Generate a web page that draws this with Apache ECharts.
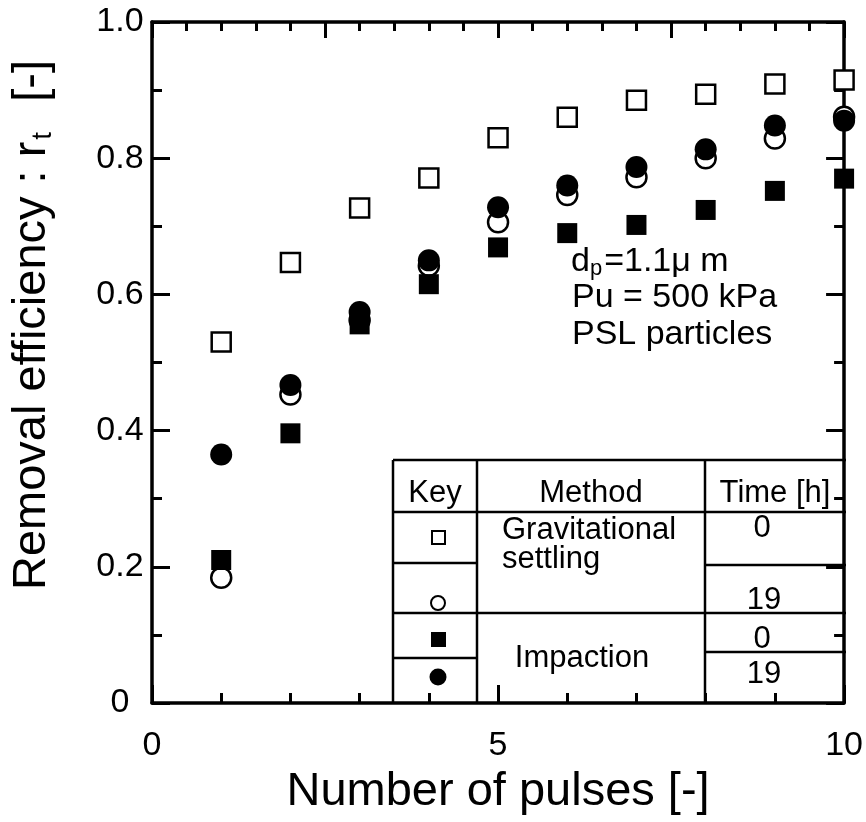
<!DOCTYPE html>
<html>
<head>
<meta charset="utf-8">
<script src="https://cdn.jsdelivr.net/npm/echarts@6/dist/echarts.min.js"></script>
<style>
html,body{margin:0;padding:0;background:#fff;}
#chart{width:866px;height:822px;}
</style>
</head>
<body>
<div id="chart"></div>
<script>
// ---- data ----
const pulses = [1, 2, 3, 4, 5, 6, 7, 8, 9, 10];
const gravSettling0h = [0.530, 0.647, 0.727, 0.771, 0.830, 0.860, 0.885, 0.894, 0.909, 0.915];
const gravSettling19h = [0.184, 0.453, 0.562, 0.642, 0.706, 0.746, 0.772, 0.800, 0.829, 0.861];
const impaction0h = [0.210, 0.396, 0.556, 0.615, 0.669, 0.690, 0.702, 0.724, 0.752, 0.770];
const impaction19h = [0.365, 0.467, 0.574, 0.650, 0.728, 0.760, 0.787, 0.813, 0.848, 0.855];
const xTickLabels = {0: '0', 5: '5', 10: '10'};
const yTickLabels = {0: '0', 0.2: '0.2', 0.4: '0.4', 0.6: '0.6', 0.8: '0.8', 1: '1.0'};

const FONT = "'Liberation Sans', Arial, Helvetica, sans-serif";
const pairs = arr => pulses.map((p, i) => [p, arr[i]]);

const chart = echarts.init(document.getElementById('chart'), null, {renderer: 'canvas'});

const axisLine = {show: true, onZero: false, lineStyle: {color: '#000', width: 3.5}};
const baseX = {
  type: 'value', min: 0, max: 10,
  axisLine: axisLine, splitLine: {show: false}
};
const baseY = {
  type: 'value', min: 0, max: 1, interval: 0.2,
  axisLine: axisLine, splitLine: {show: false},
  axisTick: {show: true, inside: true, length: 18, lineStyle: {color: '#000', width: 3}},
  minorTick: {show: true, splitNumber: 2, length: 10, lineStyle: {color: '#000', width: 3}},
  minorSplitLine: {show: false}
};

function hline(x1, y1, x2, y2) {
  return {type: 'line', shape: {x1, y1, x2, y2}, style: {stroke: '#000', lineWidth: 2.5}, z: 10};
}
function txt(x, y, text, align, size) {
  return {type: 'text', x, y, z: 10,
    style: {text, fill: '#000', font: (size || 31) + 'px ' + FONT, textAlign: align || 'center', textVerticalAlign: 'middle'}};
}

const graphics = [
  // table
  hline(393, 460, 846, 460),
  hline(393, 460, 393, 703),
  hline(477, 460, 477, 703),
  hline(705, 460, 705, 703),
  hline(393, 512, 846, 512),
  hline(393, 563, 477, 563),
  hline(705, 565, 846, 565),
  hline(393, 613, 846, 613),
  hline(393, 658, 477, 658),
  hline(705, 652, 846, 652),
  txt(435, 493, 'Key'),
  txt(591, 493, 'Method'),
  txt(775, 493, 'Time [h]'),
  txt(502, 530, 'Gravitational', 'left'),
  txt(502, 559, 'settling', 'left'),
  txt(582, 658, 'Impaction'),
  txt(762, 528, '0'),
  txt(764, 600, '19'),
  txt(762, 639, '0'),
  txt(764, 674, '19'),
  // key symbols
  {type: 'rect', shape: {x: 432, y: 531, width: 13, height: 13}, style: {fill: '#fff', stroke: '#000', lineWidth: 2}, z: 10},
  {type: 'circle', shape: {cx: 438, cy: 603, r: 7}, style: {fill: '#fff', stroke: '#000', lineWidth: 2}, z: 10},
  {type: 'rect', shape: {x: 431, y: 632, width: 15, height: 15}, style: {fill: '#000'}, z: 10},
  {type: 'circle', shape: {cx: 438, cy: 677, r: 8.5}, style: {fill: '#000'}, z: 10},
  // annotation
  {type: 'text', x: 571, y: 262, z: 10, style: {
    text: '{n|d}{s|p}{n|=1.1μ m}', textVerticalAlign: 'middle', textAlign: 'left',
    rich: {n: {fontSize: 34, fontFamily: FONT, fill: '#000'}, s: {fontSize: 22, fontFamily: FONT, fill: '#000', padding: [14, 2, 0, 0]}}}},
  txt(572, 298, 'Pu = 500 kPa', 'left', 34),
  txt(572, 335, 'PSL particles', 'left', 34),
  // y-axis title
  {type: 'text', x: 32, y: 325, rotation: Math.PI / 2, z: 10, style: {
    text: '{n|Removal efficiency : r}{s|t}{n|  [-]}', textAlign: 'center', textVerticalAlign: 'middle',
    rich: {n: {fontSize: 47, fontFamily: FONT, fill: '#000'}, s: {fontSize: 28, fontFamily: FONT, fill: '#000', padding: [22, 4, 0, 2]}}}}
];

const option = {
  backgroundColor: '#fff',
  animation: false,
  grid: {left: 152, right: 20, top: 22, bottom: 119},
  xAxis: [
    Object.assign({}, baseX, {
      position: 'bottom', interval: 5,
      axisTick: {show: true, inside: true, length: 18, lineStyle: {color: '#000', width: 3}},
      minorTick: {show: true, splitNumber: 5, length: 10, lineStyle: {color: '#000', width: 3}},
      axisLabel: {show: true, color: '#000', fontSize: 34, fontFamily: FONT, margin: 26,
        formatter: v => xTickLabels[v] !== undefined ? xTickLabels[v] : ''},
      name: 'Number of pulses [-]', nameLocation: 'middle', nameGap: 66,
      nameTextStyle: {color: '#000', fontSize: 47, fontFamily: FONT}
    }),
    Object.assign({}, baseX, {
      position: 'top', interval: 2.5,
      axisTick: {show: true, inside: true, length: 16, lineStyle: {color: '#000', width: 3}},
      minorTick: {show: true, splitNumber: 5, length: 9, lineStyle: {color: '#000', width: 3}},
      axisLabel: {show: false}
    })
  ],
  yAxis: [
    Object.assign({}, baseY, {
      position: 'left',
      axisLabel: {show: true, color: '#000', fontSize: 34, fontFamily: FONT, margin: 32, align: 'center',
        formatter: v => {const k = Math.round(v * 10) / 10; return yTickLabels[k] !== undefined ? yTickLabels[k] : '';}}
    }),
    Object.assign({}, baseY, {position: 'right', axisLabel: {show: false}})
  ],
  graphic: graphics,
  series: [
    {name: 'Gravitational settling 0 h', type: 'scatter', data: pairs(gravSettling0h), symbol: 'rect', symbolSize: 19, clip: false, z: 3,
      itemStyle: {color: '#fff', borderColor: '#000', borderWidth: 2.5, opacity: 1}},
    {name: 'Gravitational settling 19 h', type: 'scatter', data: pairs(gravSettling19h), symbol: 'circle', symbolSize: 20, clip: false, z: 4,
      itemStyle: {color: '#fff', borderColor: '#000', borderWidth: 2.5, opacity: 1}},
    {name: 'Impaction 0 h', type: 'scatter', data: pairs(impaction0h), symbol: 'rect', symbolSize: 20, clip: false, z: 5,
      itemStyle: {color: '#000', opacity: 1}},
    {name: 'Impaction 19 h', type: 'scatter', data: pairs(impaction19h), symbol: 'circle', symbolSize: 22, clip: false, z: 6,
      itemStyle: {color: '#000', opacity: 1}}
  ]
};
chart.setOption(option);
</script>
</body>
</html>
